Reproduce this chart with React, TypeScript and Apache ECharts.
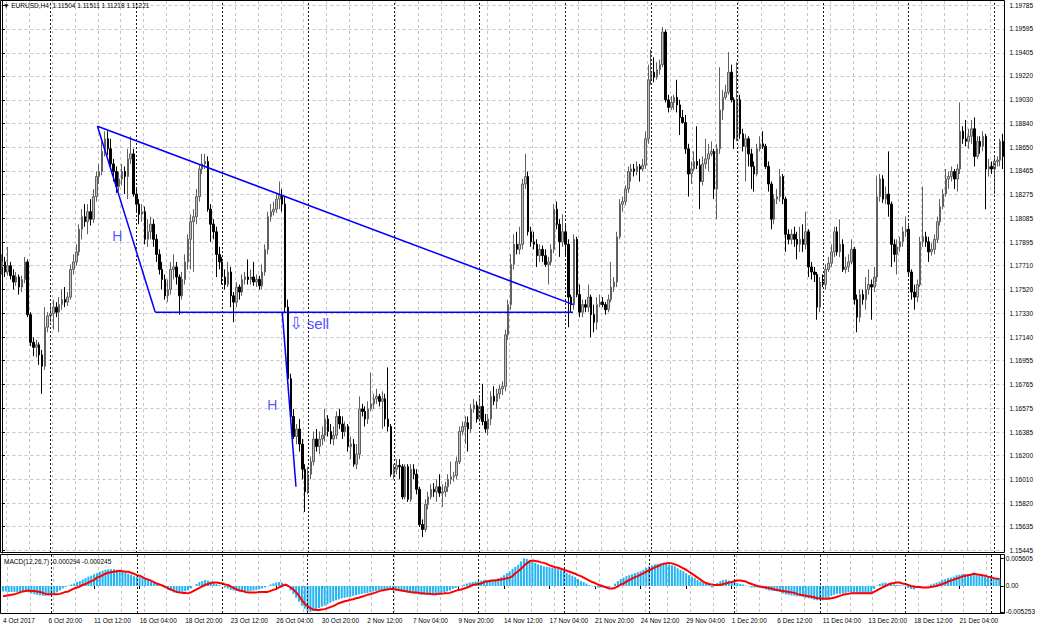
import React, { useEffect, useRef } from "react";
import * as echarts from "echarts";

const headerText = "\u25BC EURUSD,H4  1.11504 1.11511 1.11218 1.11221";
const macdTitle = "MACD(12,26,7) -0.000294 -0.000245";

const priceTickLabels = ["1.19785","1.19595","1.19405","1.19220","1.19030","1.18840","1.18650","1.18465","1.18275","1.18085","1.17895","1.17710","1.17520","1.17330","1.17140","1.16955","1.16765","1.16575","1.16385","1.16200","1.16010","1.15820","1.15635","1.15445"];
const macdTickLabels = ["0.005605", "0.00", "-0.005253"];
const macdTickValues = [0.005605, 0, -0.005253];
const timeLabels = ["4 Oct 2017","6 Oct 20:00","11 Oct 12:00","16 Oct 04:00","18 Oct 20:00","23 Oct 12:00","26 Oct 04:00","30 Oct 20:00","2 Nov 12:00","7 Nov 04:00","9 Nov 20:00","14 Nov 12:00","17 Nov 04:00","21 Nov 20:00","24 Nov 12:00","29 Nov 04:00","1 Dec 20:00","6 Dec 12:00","11 Dec 04:00","13 Dec 20:00","18 Dec 12:00","21 Dec 04:00"];
const barsPerLabel = 16;
const weekStartBars = [17, 47, 77, 107, 137, 167, 197, 227, 257, 287, 317, 347];

// [open, close, low, high]
const week0 = [[1.1770,1.1774,1.1764,1.1780],[1.1774,1.1766,1.1762,1.1778],[1.1766,1.1771,1.1763,1.1786],[1.1771,1.1763,1.1760,1.1774],[1.1763,1.1758,1.1752,1.1768],[1.1758,1.1762,1.1755,1.1766],[1.1762,1.1754,1.1748,1.1764],[1.1754,1.1760,1.1750,1.1763],[1.1760,1.1774,1.1757,1.1778],[1.1774,1.1732,1.1730,1.1776],[1.1732,1.1710,1.1707,1.1734],[1.1710,1.1706,1.1699,1.1714],[1.1706,1.1708,1.1698,1.1712],[1.1708,1.1700,1.1692,1.1710],[1.1700,1.1691,1.1669,1.1704],[1.1691,1.1722,1.1688,1.1738],[1.1722,1.1731,1.1718,1.1734]];
const week1 = [[1.1731,1.1733,1.1726,1.1740],[1.1733,1.1738,1.1720,1.1744],[1.1738,1.1734,1.1730,1.1742],[1.1734,1.1740,1.1718,1.1746],[1.1740,1.1744,1.1736,1.1752],[1.1744,1.1742,1.1738,1.1754],[1.1742,1.1746,1.1739,1.1750],[1.1746,1.1768,1.1744,1.1772],[1.1768,1.1774,1.1764,1.1780],[1.1774,1.1782,1.1771,1.1788],[1.1782,1.1800,1.1779,1.1804],[1.1800,1.1810,1.1792,1.1816],[1.1810,1.1806,1.1802,1.1820],[1.1806,1.1814,1.1796,1.1820],[1.1814,1.1808,1.1803,1.1824],[1.1808,1.1826,1.1805,1.1832],[1.1826,1.1842,1.1822,1.1846],[1.1842,1.1846,1.1836,1.1852],[1.1846,1.1862,1.1843,1.1870],[1.1862,1.1872,1.1858,1.1878],[1.1872,1.1864,1.1859,1.1878],[1.1864,1.1852,1.1848,1.1872],[1.1852,1.1846,1.1838,1.1856],[1.1846,1.1834,1.1829,1.1850],[1.1834,1.1840,1.1830,1.1846],[1.1840,1.1846,1.1835,1.1852],[1.1846,1.1842,1.1828,1.1850],[1.1842,1.1856,1.1824,1.1864],[1.1856,1.1860,1.1852,1.1874],[1.1860,1.1828,1.1826,1.1864]];
const week2 = [[1.1828,1.1820,1.1814,1.1832],[1.1820,1.1812,1.1804,1.1824],[1.1812,1.1814,1.1806,1.1820],[1.1814,1.1792,1.1788,1.1818],[1.1792,1.1798,1.1786,1.1808],[1.1798,1.1804,1.1792,1.1810],[1.1804,1.1792,1.1786,1.1808],[1.1792,1.1780,1.1774,1.1796],[1.1780,1.1768,1.1764,1.1784],[1.1768,1.1760,1.1752,1.1774],[1.1760,1.1747,1.1744,1.1764],[1.1747,1.1752,1.1742,1.1760],[1.1752,1.1768,1.1748,1.1774],[1.1768,1.1770,1.1760,1.1780],[1.1770,1.1762,1.1756,1.1774],[1.1762,1.1747,1.1732,1.1764],[1.1747,1.1760,1.1744,1.1766],[1.1760,1.1774,1.1756,1.1780],[1.1774,1.1792,1.1768,1.1796],[1.1792,1.1806,1.1768,1.1812],[1.1806,1.1810,1.1766,1.1816],[1.1810,1.1826,1.1804,1.1832],[1.1826,1.1848,1.1822,1.1852],[1.1848,1.1852,1.1844,1.1860],[1.1852,1.1854,1.1848,1.1860],[1.1854,1.1816,1.1814,1.1858],[1.1816,1.1804,1.1790,1.1820],[1.1804,1.1798,1.1792,1.1808],[1.1798,1.1780,1.1762,1.1802],[1.1780,1.1774,1.1768,1.1786]];
const week3 = [[1.1774,1.1762,1.1756,1.1778],[1.1762,1.1756,1.1752,1.1768],[1.1756,1.1766,1.1754,1.1774],[1.1766,1.1747,1.1738,1.1770],[1.1747,1.1742,1.1726,1.1750],[1.1742,1.1754,1.1738,1.1758],[1.1754,1.1750,1.1744,1.1756],[1.1750,1.1760,1.1747,1.1764],[1.1760,1.1762,1.1756,1.1766],[1.1762,1.1760,1.1756,1.1776],[1.1760,1.1762,1.1756,1.1768],[1.1762,1.1758,1.1755,1.1774],[1.1758,1.1760,1.1754,1.1764],[1.1760,1.1755,1.1752,1.1763],[1.1755,1.1766,1.1752,1.1772],[1.1766,1.1784,1.1763,1.1788],[1.1784,1.1810,1.1780,1.1814],[1.1810,1.1814,1.1806,1.1820],[1.1814,1.1816,1.1811,1.1822],[1.1816,1.1824,1.1813,1.1828],[1.1824,1.1827,1.1816,1.1838],[1.1827,1.1820,1.1814,1.1832],[1.1820,1.1738,1.1734,1.1826],[1.1738,1.1681,1.1677,1.1744],[1.1681,1.1651,1.1649,1.1685],[1.1651,1.1635,1.1633,1.1657],[1.1635,1.1641,1.1629,1.1645],[1.1641,1.1629,1.1623,1.1649],[1.1629,1.1609,1.1601,1.1633],[1.1609,1.1591,1.1575,1.1613]];
const week4 = [[1.1591,1.1605,1.1589,1.1611],[1.1605,1.1615,1.1601,1.1619],[1.1615,1.1633,1.1612,1.1639],[1.1633,1.1627,1.1623,1.1641],[1.1627,1.1633,1.1621,1.1639],[1.1633,1.1636,1.1628,1.1643],[1.1636,1.1649,1.1631,1.1657],[1.1649,1.1639,1.1635,1.1652],[1.1639,1.1633,1.1629,1.1645],[1.1633,1.1636,1.1628,1.1643],[1.1636,1.1651,1.1633,1.1655],[1.1651,1.1645,1.1641,1.1657],[1.1645,1.1639,1.1633,1.1651],[1.1639,1.1643,1.1635,1.1647],[1.1643,1.1627,1.1623,1.1645],[1.1627,1.1629,1.1617,1.1635],[1.1629,1.1613,1.1611,1.1633],[1.1613,1.1621,1.1609,1.1629],[1.1621,1.1657,1.1617,1.1667],[1.1657,1.1655,1.1651,1.1661],[1.1655,1.1649,1.1643,1.1659],[1.1649,1.1657,1.1645,1.1663],[1.1657,1.1661,1.1655,1.1686],[1.1661,1.1665,1.1657,1.1669],[1.1665,1.1667,1.1661,1.1673],[1.1667,1.1663,1.1659,1.1669],[1.1663,1.1665,1.1641,1.1671],[1.1665,1.1649,1.1643,1.1669],[1.1649,1.1643,1.1639,1.1690],[1.1643,1.1605,1.1603,1.1645]];
const week5 = [[1.1605,1.1609,1.1601,1.1613],[1.1609,1.1612,1.1605,1.1617],[1.1612,1.1611,1.1601,1.1617],[1.1611,1.1587,1.1585,1.1613],[1.1587,1.1611,1.1585,1.1613],[1.1611,1.1585,1.1583,1.1613],[1.1585,1.1609,1.1583,1.1613],[1.1609,1.1605,1.1601,1.1613],[1.1605,1.1593,1.1589,1.1609],[1.1593,1.1565,1.1563,1.1595],[1.1565,1.1561,1.1555,1.1569],[1.1561,1.1581,1.1559,1.1585],[1.1581,1.1587,1.1577,1.1591],[1.1587,1.1593,1.1585,1.1597],[1.1593,1.1591,1.1587,1.1598],[1.1591,1.1595,1.1583,1.1601],[1.1595,1.1590,1.1587,1.1605],[1.1590,1.1591,1.1579,1.1597],[1.1591,1.1595,1.1587,1.1599],[1.1595,1.1601,1.1591,1.1605],[1.1601,1.1603,1.1597,1.1615],[1.1603,1.1604,1.1599,1.1607],[1.1604,1.1615,1.1601,1.1619],[1.1615,1.1639,1.1613,1.1643],[1.1639,1.1643,1.1636,1.1647],[1.1643,1.1646,1.1629,1.1651],[1.1646,1.1641,1.1623,1.1651],[1.1641,1.1657,1.1638,1.1661],[1.1657,1.1660,1.1654,1.1665],[1.1660,1.1649,1.1646,1.1663]];
const week6 = [[1.1649,1.1659,1.1647,1.1667],[1.1659,1.1647,1.1644,1.1677],[1.1647,1.1641,1.1638,1.1653],[1.1641,1.1649,1.1636,1.1653],[1.1649,1.1667,1.1644,1.1671],[1.1667,1.1663,1.1660,1.1675],[1.1663,1.1669,1.1657,1.1673],[1.1669,1.1673,1.1665,1.1676],[1.1673,1.1675,1.1668,1.1679],[1.1675,1.1716,1.1671,1.1720],[1.1716,1.1740,1.1712,1.1744],[1.1740,1.1772,1.1736,1.1780],[1.1772,1.1788,1.1768,1.1796],[1.1788,1.1784,1.1780,1.1798],[1.1784,1.1788,1.1780,1.1802],[1.1788,1.1836,1.1784,1.1840],[1.1836,1.1842,1.1832,1.1860],[1.1842,1.1798,1.1795,1.1846],[1.1798,1.1790,1.1786,1.1802],[1.1790,1.1788,1.1784,1.1798],[1.1788,1.1779,1.1770,1.1792],[1.1779,1.1784,1.1774,1.1788],[1.1784,1.1779,1.1774,1.1787],[1.1779,1.1772,1.1770,1.1784],[1.1772,1.1774,1.1756,1.1778],[1.1774,1.1784,1.1771,1.1788],[1.1784,1.1816,1.1781,1.1820],[1.1816,1.1804,1.1800,1.1822],[1.1804,1.1790,1.1778,1.1808],[1.1790,1.1798,1.1786,1.1812]];
const week7 = [[1.1798,1.1788,1.1778,1.1804],[1.1788,1.1746,1.1722,1.1792],[1.1746,1.1740,1.1734,1.1748],[1.1740,1.1792,1.1736,1.1796],[1.1792,1.1748,1.1746,1.1794],[1.1748,1.1734,1.1730,1.1756],[1.1734,1.1740,1.1730,1.1744],[1.1740,1.1738,1.1734,1.1744],[1.1738,1.1746,1.1734,1.1756],[1.1746,1.1732,1.1714,1.1748],[1.1732,1.1726,1.1718,1.1740],[1.1726,1.1740,1.1720,1.1746],[1.1740,1.1742,1.1738,1.1748],[1.1742,1.1740,1.1738,1.1746],[1.1740,1.1736,1.1732,1.1742],[1.1736,1.1744,1.1734,1.1748],[1.1744,1.1754,1.1742,1.1774],[1.1754,1.1758,1.1750,1.1762],[1.1758,1.1794,1.1754,1.1798],[1.1794,1.1820,1.1792,1.1824],[1.1820,1.1822,1.1814,1.1826],[1.1822,1.1832,1.1819,1.1835],[1.1832,1.1846,1.1829,1.1850],[1.1846,1.1848,1.1838,1.1852],[1.1848,1.1846,1.1842,1.1852],[1.1846,1.1850,1.1843,1.1854],[1.1850,1.1848,1.1838,1.1852],[1.1848,1.1851,1.1846,1.1856],[1.1851,1.1872,1.1848,1.1878],[1.1872,1.1919,1.1868,1.1931]];
const week8 = [[1.1919,1.1925,1.1915,1.1943],[1.1925,1.1921,1.1917,1.1937],[1.1921,1.1927,1.1919,1.1933],[1.1927,1.1931,1.1923,1.1935],[1.1931,1.1957,1.1929,1.1961],[1.1957,1.1903,1.1901,1.1959],[1.1903,1.1897,1.1893,1.1907],[1.1897,1.1901,1.1895,1.1906],[1.1901,1.1905,1.1895,1.1907],[1.1905,1.1899,1.1893,1.1919],[1.1899,1.1889,1.1875,1.1903],[1.1889,1.1885,1.1884,1.1895],[1.1885,1.1864,1.1860,1.1891],[1.1864,1.1844,1.1826,1.1868],[1.1844,1.1848,1.1836,1.1854],[1.1848,1.1854,1.1846,1.1862],[1.1854,1.1851,1.1848,1.1882],[1.1851,1.1838,1.1816,1.1856],[1.1838,1.1852,1.1835,1.1858],[1.1852,1.1856,1.1848,1.1872],[1.1856,1.1860,1.1846,1.1868],[1.1860,1.1862,1.1858,1.1870],[1.1862,1.1832,1.1824,1.1864],[1.1832,1.1864,1.1808,1.1868],[1.1864,1.1895,1.1860,1.1929],[1.1895,1.1905,1.1887,1.1911],[1.1905,1.1909,1.1903,1.1915],[1.1909,1.1925,1.1907,1.1941],[1.1925,1.1903,1.1901,1.1931],[1.1903,1.1872,1.1864,1.1905]];
const week9 = [[1.1872,1.1903,1.1870,1.1933],[1.1903,1.1876,1.1872,1.1907],[1.1876,1.1866,1.1862,1.1880],[1.1866,1.1872,1.1838,1.1876],[1.1872,1.1860,1.1850,1.1874],[1.1860,1.1850,1.1832,1.1864],[1.1850,1.1844,1.1830,1.1854],[1.1844,1.1864,1.1842,1.1868],[1.1864,1.1868,1.1862,1.1874],[1.1868,1.1866,1.1864,1.1878],[1.1866,1.1850,1.1848,1.1868],[1.1850,1.1836,1.1830,1.1854],[1.1836,1.1808,1.1800,1.1838],[1.1808,1.1824,1.1804,1.1828],[1.1824,1.1826,1.1820,1.1832],[1.1826,1.1842,1.1822,1.1848],[1.1842,1.1824,1.1820,1.1844],[1.1824,1.1796,1.1782,1.1826],[1.1796,1.1792,1.1788,1.1800],[1.1792,1.1796,1.1788,1.1800],[1.1796,1.1792,1.1786,1.1802],[1.1792,1.1788,1.1776,1.1798],[1.1788,1.1792,1.1782,1.1802],[1.1792,1.1788,1.1782,1.1804],[1.1788,1.1798,1.1784,1.1814],[1.1798,1.1770,1.1762,1.1800],[1.1770,1.1766,1.1760,1.1774],[1.1766,1.1764,1.1758,1.1770],[1.1764,1.1738,1.1728,1.1766],[1.1738,1.1758,1.1734,1.1762]];
const week10 = [[1.1758,1.1756,1.1754,1.1764],[1.1756,1.1768,1.1752,1.1772],[1.1768,1.1773,1.1766,1.1778],[1.1773,1.1782,1.1770,1.1788],[1.1782,1.1798,1.1778,1.1802],[1.1798,1.1782,1.1779,1.1802],[1.1782,1.1788,1.1778,1.1808],[1.1788,1.1768,1.1766,1.1792],[1.1768,1.1770,1.1765,1.1778],[1.1770,1.1774,1.1766,1.1780],[1.1774,1.1784,1.1772,1.1792],[1.1784,1.1744,1.1740,1.1786],[1.1744,1.1730,1.1718,1.1748],[1.1730,1.1748,1.1726,1.1752],[1.1748,1.1744,1.1740,1.1752],[1.1744,1.1752,1.1736,1.1762],[1.1752,1.1756,1.1748,1.1768],[1.1756,1.1754,1.1728,1.1760],[1.1754,1.1762,1.1750,1.1770],[1.1762,1.1826,1.1758,1.1842],[1.1826,1.1840,1.1822,1.1844],[1.1840,1.1824,1.1821,1.1843],[1.1824,1.1828,1.1820,1.1834],[1.1828,1.1820,1.1810,1.1862],[1.1820,1.1788,1.1770,1.1822],[1.1788,1.1780,1.1774,1.1792],[1.1780,1.1786,1.1764,1.1792],[1.1786,1.1790,1.1782,1.1794],[1.1790,1.1798,1.1786,1.1802],[1.1798,1.1800,1.1794,1.1810]];
const week11 = [[1.1800,1.1766,1.1763,1.1803],[1.1766,1.1750,1.1744,1.1768],[1.1750,1.1746,1.1736,1.1756],[1.1746,1.1756,1.1742,1.1760],[1.1756,1.1790,1.1754,1.1794],[1.1790,1.1794,1.1786,1.1834],[1.1794,1.1790,1.1786,1.1798],[1.1790,1.1782,1.1774,1.1794],[1.1782,1.1784,1.1779,1.1789],[1.1784,1.1792,1.1780,1.1796],[1.1792,1.1806,1.1789,1.1810],[1.1806,1.1818,1.1803,1.1824],[1.1818,1.1828,1.1816,1.1832],[1.1828,1.1840,1.1826,1.1848],[1.1840,1.1842,1.1832,1.1846],[1.1842,1.1846,1.1838,1.1850],[1.1846,1.1840,1.1832,1.1848],[1.1840,1.1848,1.1830,1.1852],[1.1848,1.1878,1.1844,1.1901],[1.1878,1.1872,1.1868,1.1882],[1.1872,1.1870,1.1866,1.1887],[1.1870,1.1874,1.1864,1.1880],[1.1874,1.1880,1.1868,1.1887],[1.1880,1.1858,1.1850,1.1889],[1.1858,1.1870,1.1856,1.1874],[1.1870,1.1866,1.1860,1.1874],[1.1866,1.1874,1.1862,1.1878],[1.1874,1.1848,1.1816,1.1876],[1.1848,1.1850,1.1842,1.1856],[1.1850,1.1848,1.1844,1.1854]];
const week12 = [[1.1848,1.1854,1.1828,1.1858],[1.1854,1.1855,1.1850,1.1858],[1.1855,1.1870,1.1850,1.1872],[1.1870,1.1858,1.1848,1.1876]];

const macdMain = [-0.0011,-0.0011,-0.0012,-0.0012,-0.0012,-0.0012,-0.0012,-0.0012,-0.0011,-0.0013,
-0.0015,-0.0017,-0.0018,-0.0019,-0.002,-0.002,-0.0019,-0.0018,-0.0016,-0.0013,
-0.0009,-0.0005,-0.0002,0.0001,0.0003,0.0005,0.0008,0.001,0.0013,0.0016,
0.0019,0.0021,0.0024,0.0026,0.0029,0.0031,0.0033,0.0034,0.0034,0.0034,
0.0033,0.0031,0.0029,0.0027,0.0025,0.0023,0.002,0.0019,0.0018,0.0016,
0.0014,0.0012,0.0009,0.0006,0.0004,0.0002,0,-0.0004,-0.0007,-0.001,
-0.0013,-0.0014,-0.0015,-0.0013,-0.0011,-0.0009,-0.0005,0,0.0004,0.0008,
0.001,0.0012,0.0011,0.0009,0.0007,0.0004,0.0002,0,-0.0003,-0.0005,
-0.0008,-0.0009,-0.001,-0.0011,-0.0011,-0.0011,-0.0011,-0.001,-0.0009,-0.0008,
-0.0007,-0.0005,-0.0003,-0.0001,0.0003,0.0005,0.0007,0.0008,0.0007,0.0004,
-0.0002,-0.0009,-0.0016,-0.0024,-0.0032,-0.004,-0.0046,-0.0051,-0.0053,-0.0051,
-0.0048,-0.0045,-0.0042,-0.004,-0.0037,-0.0034,-0.0031,-0.0029,-0.0027,-0.0025,
-0.0024,-0.0023,-0.0022,-0.002,-0.0019,-0.0017,-0.0016,-0.0015,-0.0014,-0.0013,
-0.0011,-0.001,-0.0009,-0.0008,-0.0007,-0.0007,-0.0008,-0.0009,-0.0009,-0.001,
-0.0011,-0.0012,-0.0013,-0.0014,-0.0015,-0.0016,-0.0017,-0.0018,-0.0018,-0.0018,
-0.0018,-0.0018,-0.0017,-0.0016,-0.0014,-0.0013,-0.0011,-0.0009,-0.0006,-0.0004,
-0.0002,0.0001,0.0003,0.0005,0.0007,0.0008,0.0009,0.001,0.0011,0.0012,
0.0012,0.0013,0.0013,0.0014,0.0016,0.0018,0.0022,0.0026,0.003,0.0035,
0.0039,0.0043,0.005,0.0056,0.0055,0.0053,0.005,0.0047,0.0044,0.0042,
0.004,0.0039,0.0038,0.0037,0.0036,0.0034,0.0032,0.003,0.0027,0.0024,
0.0021,0.0018,0.0014,0.001,0.0008,0.0005,0.0002,-0.0001,-0.0002,-0.0003,
-0.0003,-0.0003,-0.0003,-0.0002,0,0.0005,0.001,0.0014,0.0017,0.002,
0.0022,0.0024,0.0026,0.0028,0.003,0.0033,0.0037,0.004,0.0042,0.0044,
0.0045,0.0046,0.0047,0.0046,0.0044,0.0042,0.004,0.0036,0.0033,0.003,
0.0026,0.0022,0.0019,0.0016,0.0012,0.0009,0.0007,0.0005,0.0002,-0.0003,
0,0.0006,0.001,0.0012,0.0013,0.0011,0.0008,0.0009,0.0006,0.0004,
0.0003,0.0001,-0.0001,-0.0003,-0.0003,-0.0003,-0.0004,-0.0005,-0.0007,-0.0009,
-0.001,-0.001,-0.0011,-0.0012,-0.0015,-0.0017,-0.0018,-0.0019,-0.002,-0.0021,
-0.0021,-0.0022,-0.0024,-0.0025,-0.0026,-0.0028,-0.0029,-0.0029,-0.0029,-0.0027,
-0.0024,-0.002,-0.0018,-0.0016,-0.0016,-0.0015,-0.0014,-0.0013,-0.0014,-0.0016,
-0.0016,-0.0016,-0.0015,-0.0015,-0.0015,-0.0014,-0.0006,0.0001,0.0004,0.0006,
0.0007,0.0005,0.0004,0.0003,0.0002,0.0002,0.0001,-0.0001,-0.0004,-0.0006,
-0.0007,-0.0004,-0.0002,0,0,0.0001,0.0003,0.0005,0.0007,0.0009,
0.0012,0.0014,0.0016,0.0017,0.0019,0.0022,0.0023,0.0024,0.0024,0.0024,
0.0024,0.0023,0.0022,0.0021,0.002,0.0019,0.0018,0.0017,0.0017,0.0016,
0.0016];

const macdSignal = [-0.0021,-0.002,-0.0019,-0.0018,-0.0017,-0.0015,-0.0013,-0.0011,-0.001,-0.0009,
-0.001,-0.001,-0.0011,-0.0012,-0.0014,-0.0016,-0.0017,-0.0017,-0.0017,-0.0017,
-0.0016,-0.0014,-0.0012,-0.0011,-0.0008,-0.0005,-0.0003,-0.0001,0.0002,0.0004,
0.0007,0.001,0.0012,0.0017,0.0019,0.0022,0.0025,0.0027,0.0028,0.0029,
0.003,0.0031,0.003,0.0029,0.0029,0.0027,0.0025,0.0022,0.0021,0.0018,
0.0015,0.0013,0.0011,0.0008,0.0005,0.0003,0.0001,-0.0002,-0.0005,-0.0007,
-0.001,-0.0012,-0.0013,-0.0014,-0.0014,-0.0015,-0.0013,-0.001,-0.0007,-0.0004,
-0.0001,0.0002,0.0004,0.0006,0.0007,0.0007,0.0006,0.0005,0.0003,0.0002,
-0.0001,-0.0004,-0.0007,-0.0009,-0.001,-0.0012,-0.0013,-0.0013,-0.0013,-0.0013,
-0.0012,-0.0012,-0.0012,-0.0012,-0.001,-0.0008,-0.0006,-0.0003,0,0.0003,
0.0001,-0.0003,-0.0007,-0.0013,-0.002,-0.0029,-0.0036,-0.0041,-0.0045,-0.0048,
-0.0049,-0.0049,-0.0048,-0.0047,-0.0045,-0.0043,-0.0041,-0.0038,-0.0035,-0.0033,
-0.0031,-0.003,-0.0028,-0.0027,-0.0025,-0.0024,-0.0022,-0.002,-0.0018,-0.0017,
-0.0015,-0.0013,-0.0011,-0.0009,-0.0008,-0.0007,-0.0006,-0.0006,-0.0007,-0.0008,
-0.0009,-0.001,-0.0011,-0.0012,-0.0013,-0.0013,-0.0014,-0.0015,-0.0015,-0.0016,
-0.0016,-0.0017,-0.0017,-0.0016,-0.0016,-0.0015,-0.0015,-0.0014,-0.0012,-0.001,
-0.0008,-0.0007,-0.0005,-0.0003,-0.0001,0.0002,0.0003,0.0004,0.0005,0.0008,
0.0009,0.001,0.0011,0.0011,0.0012,0.0013,0.0014,0.0016,0.0017,0.002,
0.0026,0.003,0.0035,0.0041,0.0046,0.005,0.0052,0.0051,0.005,0.0048,
0.0047,0.0045,0.0042,0.004,0.0038,0.0037,0.0035,0.0033,0.0031,0.0029,
0.0027,0.0025,0.0022,0.002,0.0017,0.0014,0.0011,0.0008,0.0006,0.0003,
0.0001,-0.0001,-0.0003,-0.0005,-0.0005,-0.0004,-0.0001,0.0003,0.0005,0.0009,
0.0012,0.0015,0.0018,0.002,0.0023,0.0026,0.0029,0.0032,0.0035,0.0038,
0.004,0.0043,0.0045,0.0046,0.0047,0.0046,0.0044,0.0042,0.0039,0.0036,
0.0033,0.0029,0.0025,0.0021,0.0017,0.0013,0.0009,0.0006,0.0004,0.0003,
0.0002,0.0002,0.0002,0.0004,0.0005,0.0007,0.0008,0.001,0.0011,0.0011,
0.001,0.0009,0.0006,0.0004,0.0002,0,-0.0001,-0.0002,-0.0003,-0.0004,
-0.0005,-0.0007,-0.0008,-0.0009,-0.001,-0.0011,-0.0012,-0.0013,-0.0014,-0.0016,
-0.0018,-0.0019,-0.002,-0.0021,-0.0022,-0.0023,-0.0025,-0.0025,-0.0026,-0.0026,
-0.0026,-0.0025,-0.0024,-0.0022,-0.002,-0.0018,-0.0017,-0.0016,-0.0015,-0.0015,
-0.0015,-0.0015,-0.0015,-0.0015,-0.0015,-0.0015,-0.0012,-0.0009,-0.0006,-0.0003,
0,0.0003,0.0005,0.0006,0.0007,0.0007,0.0005,0.0004,0.0002,0,
-0.0001,-0.0002,-0.0002,-0.0003,-0.0003,-0.0003,-0.0002,-0.0001,0,0.0002,
0.0004,0.0006,0.0009,0.0011,0.0013,0.0015,0.0017,0.0019,0.0021,0.0022,
0.0023,0.0025,0.0024,0.0023,0.0022,0.0021,0.0019,0.0018,0.0016,0.0015,
0.0014];

// annotation anchors: [bar index, price]
const trendLine = [[33.4, 1.1882], [199.8, 1.1740]];
const leftLeg = [[33.4, 1.1882], [53.6, 1.1734]];
const neckLine = [[53.6, 1.1734], [199.6, 1.1734]];
const rightLeg = [[98.0, 1.1734], [102.8, 1.1595]];
const hMarks = [
  { name: "H", value: [40.3, 1.1795] },
  { name: "H", value: [94.5, 1.1660] },
];
const sellMark = [{ name: "sell", value: [100.4, 1.1725] }];

const PRICE_MAX = 1.19817;
const PRICE_MIN = 1.15423;
const MACD_MAX = 0.0063;
const MACD_MIN = -0.00549;

const FONT = "'Liberation Sans', Arial, sans-serif";
const GRID_LINE = { color: "#c4c4c4", type: [3, 3] as any, width: 1 };
const SEP_LINE = { color: "#1a1a1a", type: [2, 2] as any, width: 1 };

export default function App() {
  const ref = useRef<HTMLDivElement>(null);
  useEffect(() => {
    if (!ref.current) return;
    const chart = echarts.init(ref.current, null, { renderer: "svg" });
    const candles = [
      ...week0, ...week1, ...week2, ...week3, ...week4, ...week5, ...week6,
      ...week7, ...week8, ...week9, ...week10, ...week11, ...week12,
    ];
    const N = candles.length;
    const categories = candles.map((_, i) => String(i));
    const priceTickValues = priceTickLabels.map(Number);
    const sepData = weekStartBars.map((i) => ({ xAxis: i }));
    const gridSplit = (i: number) => i % 8 === 2;
    const lineSeries = (data: number[][]) => ({
      type: "line",
      xAxisIndex: 2,
      yAxisIndex: 0,
      data,
      symbol: "none",
      silent: true,
      lineStyle: { color: "#0000ff", width: 1.5 },
      z: 5,
    });

    const option: any = {
      animation: false,
      backgroundColor: "#ffffff",
      textStyle: { fontFamily: FONT },
      title: [
        {
          text: headerText,
          left: 3,
          top: 2,
          padding: 0,
          textStyle: { fontSize: 6.5, fontWeight: "normal", color: "#000", fontFamily: FONT },
        },
        {
          text: macdTitle,
          left: 4,
          top: 558,
          padding: 0,
          textStyle: { fontSize: 6.5, fontWeight: "normal", color: "#000", fontFamily: FONT },
        },
      ],
      grid: [
        { left: 0.5, right: 33.5, top: 1, height: 552 },
        { left: 0.5, right: 33.5, top: 555, height: 58 },
      ],
      xAxis: [
        {
          type: "category",
          gridIndex: 0,
          data: categories,
          boundaryGap: true,
          axisLine: { show: false },
          axisTick: { show: false },
          axisLabel: { show: false },
          splitLine: { show: true, interval: gridSplit, lineStyle: GRID_LINE },
        },
        {
          type: "category",
          gridIndex: 1,
          data: categories,
          boundaryGap: true,
          axisLine: { show: false },
          axisTick: {
            show: true,
            interval: (i: number) => i % barsPerLabel === 0,
            alignWithLabel: true,
            length: 3,
            lineStyle: { color: "#000" },
          },
          axisLabel: {
            show: true,
            interval: (i: number) => i % barsPerLabel === 0,
            formatter: (_v: string, i: number) => timeLabels[i / barsPerLabel] ?? "",
            align: "left",
            fontSize: 6.5,
            color: "#000",
            margin: 4,
            fontFamily: FONT,
          },
          splitLine: { show: true, interval: gridSplit, lineStyle: GRID_LINE },
        },
        { type: "value", gridIndex: 0, min: -0.5, max: N - 0.5, show: false },
      ],
      yAxis: [
        {
          type: "value",
          gridIndex: 0,
          position: "right",
          min: PRICE_MIN,
          max: PRICE_MAX,
          axisLine: { show: true, lineStyle: { color: "#000" } },
          axisTick: { show: true, customValues: priceTickValues, length: 3, lineStyle: { color: "#000" } },
          axisLabel: {
            customValues: priceTickValues,
            formatter: (v: number) => priceTickLabels.find((l) => Math.abs(Number(l) - v) < 1e-7) ?? "",
            fontSize: 6.5,
            color: "#000",
            margin: 5,
            fontFamily: FONT,
          },
          splitLine: { show: true, lineStyle: GRID_LINE },
        },
        {
          type: "value",
          gridIndex: 1,
          position: "right",
          min: MACD_MIN,
          max: MACD_MAX,
          axisLine: { show: true, lineStyle: { color: "#000" } },
          axisTick: { show: true, customValues: macdTickValues, length: 3, lineStyle: { color: "#000" } },
          axisLabel: {
            customValues: macdTickValues,
            formatter: (v: number) => {
              const k = macdTickValues.findIndex((t) => Math.abs(t - v) < 1e-9);
              return k >= 0 ? macdTickLabels[k] : "";
            },
            fontSize: 6.5,
            color: "#000",
            margin: 5,
            fontFamily: FONT,
          },
          splitLine: { show: false },
        },
      ],
      series: [
        {
          type: "candlestick",
          xAxisIndex: 0,
          yAxisIndex: 0,
          data: candles,
          barWidth: 2,
          itemStyle: {
            color: "#c0c0c0",
            color0: "#000000",
            borderColor: "#606060",
            borderColor0: "#000000",
            borderWidth: 1,
          },
          markLine: {
            silent: true,
            symbol: "none",
            label: { show: false },
            lineStyle: SEP_LINE,
            data: sepData,
          },
        },
        lineSeries(trendLine),
        lineSeries(leftLeg),
        lineSeries(neckLine),
        lineSeries(rightLeg),
        {
          type: "scatter",
          xAxisIndex: 2,
          yAxisIndex: 0,
          data: hMarks,
          symbolSize: 1,
          itemStyle: { color: "rgba(0,0,0,0)" },
          silent: true,
          z: 6,
          label: {
            show: true,
            position: "inside",
            formatter: "{b}",
            color: "#2a2aff",
            fontSize: 14,
            fontFamily: FONT,
          },
        },
        {
          type: "scatter",
          xAxisIndex: 2,
          yAxisIndex: 0,
          data: sellMark,
          symbolSize: 1,
          itemStyle: { color: "rgba(0,0,0,0)" },
          silent: true,
          z: 6,
          label: {
            show: true,
            position: "inside",
            align: "left",
            verticalAlign: "middle",
            formatter: "{a|\u21E9} {b|{b}}",
            rich: {
              a: { fontSize: 17, color: "#1c1cff", fontFamily: "'DejaVu Sans', sans-serif" },
              b: { fontSize: 15, color: "#1c1cff", fontFamily: FONT },
            },
          },
        },
        {
          type: "bar",
          xAxisIndex: 1,
          yAxisIndex: 1,
          data: macdMain,
          barWidth: 2,
          itemStyle: { color: "#22b4f0" },
          markLine: {
            silent: true,
            symbol: "none",
            label: { show: false },
            lineStyle: SEP_LINE,
            data: sepData,
          },
        },
        {
          type: "line",
          xAxisIndex: 1,
          yAxisIndex: 1,
          data: macdSignal,
          symbol: "none",
          lineStyle: { color: "#ff0000", width: 2 },
          z: 4,
        },
      ],
      graphic: [
        {
          type: "rect",
          silent: true,
          z: 100,
          shape: { x: 0.5, y: 0.5, width: 1004, height: 552 },
          style: { fill: "none", stroke: "#000", lineWidth: 1 },
        },
        {
          type: "rect",
          silent: true,
          z: 100,
          shape: { x: 0.5, y: 554.5, width: 1004, height: 59 },
          style: { fill: "none", stroke: "#000", lineWidth: 1 },
        },
      ],
    };
    chart.setOption(option);
    return () => chart.dispose();
  }, []);
  return (
    <div
      ref={ref}
      style={{ position: "fixed", left: 0, top: 0, width: 1038, height: 630, background: "#fff" }}
    />
  );
}
